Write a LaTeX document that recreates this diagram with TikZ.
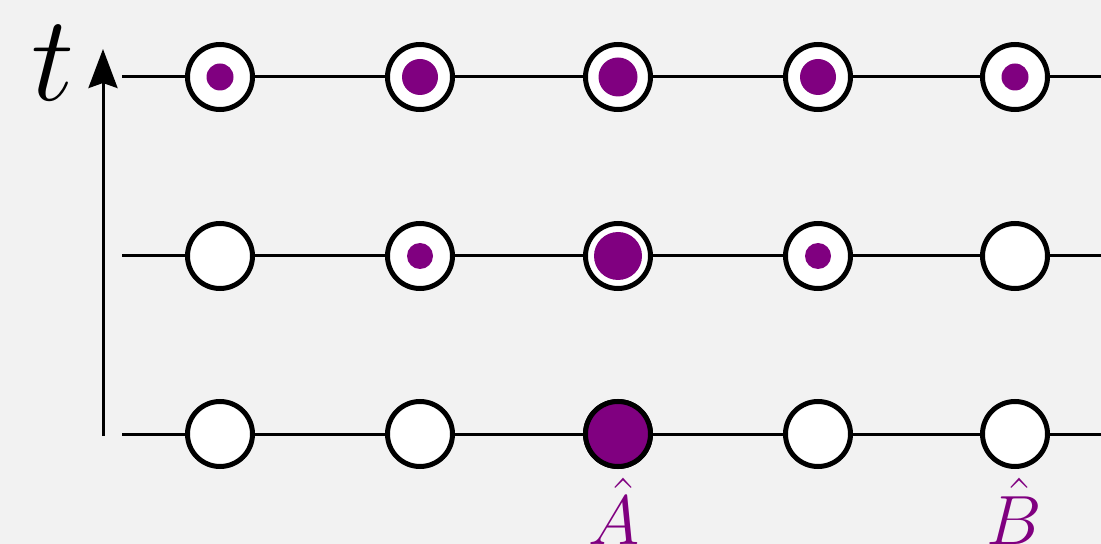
\documentclass[tikz,border=0pt]{standalone}
\usepackage{fix-cm}
\usetikzlibrary{arrows.meta}
\definecolor{bgc}{HTML}{F2F2F2}
\definecolor{mpurple}{HTML}{800080}
\tikzset{
  site/.style={circle,draw=black,line width=5bp,fill=white,minimum size=65bp,inner sep=0pt},
  occ/.style={site,fill=mpurple},
  dot/.style={circle,fill=mpurple,inner sep=0pt,minimum size=#1},
  rail/.style={line width=3bp,black},
  lbl/.style={text=mpurple,inner sep=0pt,font=\fontsize{70}{70}\selectfont},
}
\begin{document}
\begin{tikzpicture}[x=1bp,y=-1bp]
\fill[bgc] (0,0) rectangle (1101,544);
\useasboundingbox (0,0) rectangle (1101,544);
% rails
\foreach \r/\y in {1/77,2/256,3/434}{
  \coordinate (L\r) at (122,\y);
  \coordinate (R\r) at (1101,\y);
  \draw[rail] (L\r) -- (R\r);
}
% axis
\coordinate (ab) at (103,436);
\coordinate (at) at (103,49);
\draw[line width=3bp,-{Stealth[length=39bp,width=29bp,inset=5bp]}] (ab) -- (at);
\node[inner sep=0pt,font=\fontsize{122}{122}\selectfont] (tl) at (53,63) {$t$};
% sites
\foreach \r/\y in {1/77,2/256,3/434}{
  \foreach \c/\x in {1/220,2/420,3/618,4/818,5/1015}{
    \node[site] (s\r\c) at (\x,\y) {};
  }
}
\node[occ] (s33b) at (s33) {};
% dots top row
\node[dot=27bp] (d11) at (s11) {};
\node[dot=36bp] (d12) at (s12) {};
\node[dot=39bp] (d13) at (s13) {};
\node[dot=36bp] (d14) at (s14) {};
\node[dot=27bp] (d15) at (s15) {};
% middle row
\node[dot=26bp] (d22) at (s22) {};
\node[dot=48bp] (d23) at (s23) {};
\node[dot=26bp] (d24) at (s24) {};
% labels
\node[lbl,anchor=north] (A) at (614,478) {$\hat{A}$};
\node[lbl,anchor=north] (B) at (1014,478) {$\hat{B}$};
\end{tikzpicture}
\end{document}
